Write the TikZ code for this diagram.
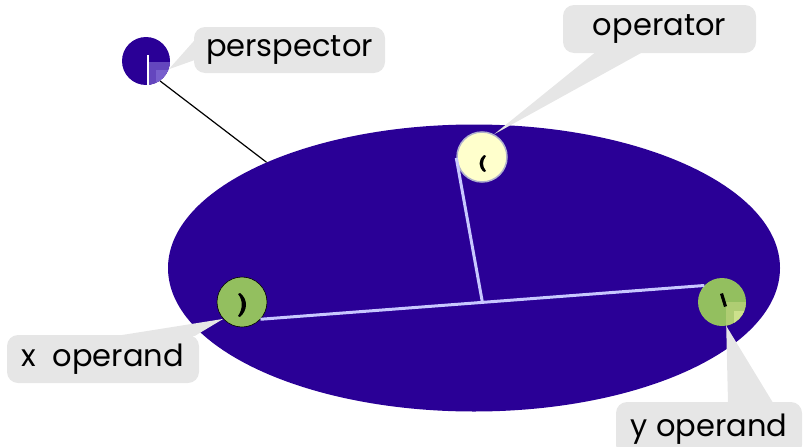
\documentclass[tikz,border=0pt]{standalone}
\usepackage{fontspec}
\setmainfont{Poppins}
\usetikzlibrary{shapes.geometric,calc}
\definecolor{indigo}{RGB}{42,0,150}
\definecolor{lav}{RGB}{200,200,255}
\definecolor{callgray}{RGB}{230,230,230}
\definecolor{opyellow}{RGB}{255,255,204}
\definecolor{opgreen}{RGB}{147,191,95}
\definecolor{opborder}{RGB}{175,175,205}
\definecolor{purpA}{RGB}{100,70,190}
\definecolor{purpB}{RGB}{120,95,205}
\definecolor{greenA}{RGB}{175,205,115}
\definecolor{greenB}{RGB}{205,225,140}
\tikzset{
  callout/.style={fill=callgray, rounded corners=11pt, inner sep=0pt, font=\fontsize{30.5}{31}\selectfont},
  ball/.style={circle, inner sep=0pt, minimum size=#1},
  linkline/.style={draw=lav, line width=3pt},
}
\begin{document}
\begin{tikzpicture}[x=1pt,y=-1pt]
\useasboundingbox (0,0) rectangle (803,447);
% main ellipse
\node[ellipse, fill=indigo, inner sep=0pt, minimum width=612pt, minimum height=287pt] (ell) at (474,268) {};
% circles
\node[ball=48pt, fill=indigo] (persp) at (146,61) {};
\node[ball=50pt, fill=opyellow, draw=opborder, line width=1.5pt] (op) at (482,157) {};
\node[ball=50pt, fill=opgreen, draw=black, line width=0.6pt] (xo) at (242,302) {};
\node[ball=48pt, fill=opgreen] (yo) at (722,302) {};
% links
\coordinate (j) at ($(xo.-43)!0.5!(yo.137)$);
\draw[linkline] (xo.-43) -- (yo.137);
\draw[linkline] (op.182) -- (j);
\draw[black, line width=1.2pt] (persp.-55) -- (ell.153);
% inner marks
\begin{scope}
  \clip (persp.center) circle (24pt);
  \fill[purpA] (148,62) rectangle (172,88);
  \fill[purpB] (156,70) rectangle (172,88);
\end{scope}
\draw[white, line width=1.5pt] (148,55) -- (148,86);
\begin{scope}
  \clip (yo.center) circle (24pt);
  \fill[greenA] (726,302) rectangle (748,328);
  \fill[greenB] (734,311) rectangle (748,328);
\end{scope}
\fill[black] (484,155) .. controls (478,160) and (478,167) .. (484,172) -- (486,171) .. controls (482,166) and (482,161) .. (486,156) -- cycle;
\fill[black] (240,293) .. controls (248,299) and (248,310) .. (240,317) -- (238,316) .. controls (243,309) and (243,300) .. (238,294) -- cycle;
\fill[black] (720,294) -- (723,293) -- (727,306) -- (724,307) -- cycle;
% callouts
\node[callout, minimum width=191pt, minimum height=46pt] (perspL) at (289.5,50) {perspector};
\fill[callgray] (persp.-20) -- ($(perspL.west)+(1,-10)$) -- ($(perspL.west)+(1,10)$) -- cycle;
\node[callout, minimum width=193pt, minimum height=48pt] (opL) at (659.5,29) {operator};
\fill[callgray] (op.62) -- ($(opL.south)+(-64,-1)$) -- ($(opL.south)+(-17,-1)$) -- cycle;
\node[callout, minimum width=192pt, minimum height=48pt] (xoL) at (103,359) {x\ \ operand};
\fill[callgray] (xo.222) -- ($(xoL.north)+(14,1)$) -- ($(xoL.north)+(92,1)$) -- cycle;
\node[callout, minimum width=186pt, minimum height=54pt] (yoL) at (709,429) {y operand};
\fill[callgray] (yo.-80) -- ($(yoL.north)+(19,1)$) -- ($(yoL.north)+(64,1)$) -- cycle;
\end{tikzpicture}
\end{document}
